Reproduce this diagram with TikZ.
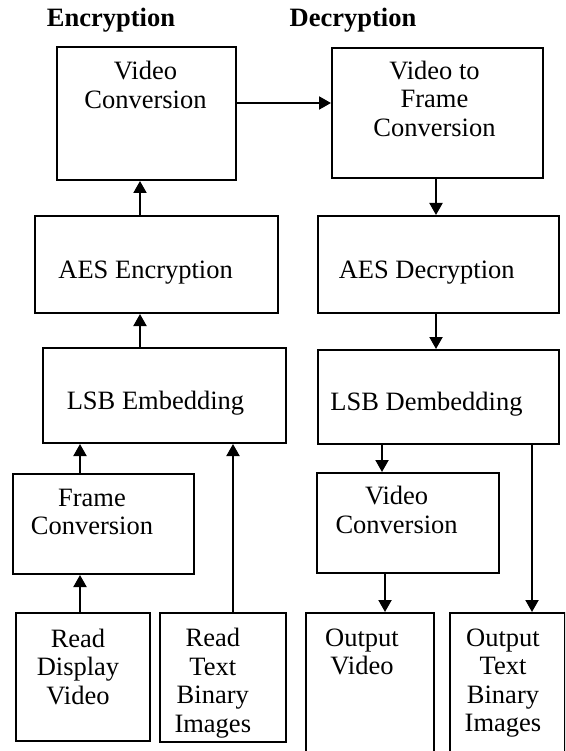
\documentclass[tikz,border=0pt]{standalone}
\usepackage{fontspec}
\setmainfont{Liberation Serif}
\usetikzlibrary{arrows.meta}
\begin{document}
\begin{tikzpicture}[x=1pt,y=-1pt,
  box/.style={draw=black,line width=2pt,rectangle,inner sep=0pt,anchor=north west},
  lbl/.style={align=center,anchor=base,inner sep=0pt,font=\fontsize{26.5}{28.5}\selectfont},
  head/.style={anchor=base,inner sep=0pt,font=\fontsize{26.5}{28.5}\selectfont\bfseries},
  arr/.style={line width=2pt,-{Triangle[length=12pt,width=13pt]}}]
\path[use as bounding box] (0,0) rectangle (565,751);
\clip (0,0) rectangle (565,751);
% headings
\node[head] (hEnc) at (111,27) {Encryption};
\node[head] (hDec) at (353,27) {Decryption};
% boxes
\node[box,minimum width=179pt,minimum height=133pt] (EncVC) at (56,46) {};
\node[box,minimum width=211pt,minimum height=130pt] (DecTop) at (331,47) {};
\node[box,minimum width=243pt,minimum height=97pt] (AESEnc) at (34,215) {};
\node[box,minimum width=241pt,minimum height=97pt] (AESDec) at (317,215) {};
\node[box,minimum width=243pt,minimum height=95pt] (LSBEmb) at (42,347) {};
\node[box,minimum width=241pt,minimum height=94pt] (LSBDem) at (317,349) {};
\node[box,minimum width=181pt,minimum height=100pt] (FrameConv) at (12,473) {};
\node[box,minimum width=182pt,minimum height=100pt] (DecVC) at (316,472) {};
\node[box,minimum width=134pt,minimum height=128pt] (ReadDisp) at (15,612) {};
\node[box,minimum width=126pt,minimum height=129pt] (ReadText) at (159,612) {};
\node[box,minimum width=128pt,minimum height=160pt] (OutVideo) at (305,612) {};
\node[box,minimum width=115pt,minimum height=160pt] (OutText) at (449,612) {};
% labels (base anchor = baseline of the last line)
\node[lbl] (tEncVC) at (145.5,108.5) {Video\\Conversion};
\node[lbl] (tDecTop) at (434.5,136.5) {Video to\\Frame\\Conversion};
\node[lbl] (tAESEnc) at (145.6,278) {AES Encryption};
\node[lbl] (tAESDec) at (426.7,278) {AES Decryption};
\node[lbl] (tLSBEmb) at (155.5,409) {LSB Embedding};
\node[lbl] (tLSBDem) at (426.5,410.3) {LSB Dembedding};
\node[lbl] (tFrame) at (92,534.7) {Frame\\Conversion};
\node[lbl] (tDecVC) at (396.6,533) {Video\\Conversion};
\node[lbl] (tReadDisp) at (78,704) {Read\\Display\\Video};
\node[lbl] (tReadText) at (212.8,732) {Read\\Text\\Binary\\Images};
\node[lbl] (tOutVideo) at (362,674.5) {Output\\Video};
\node[lbl] (tOutText) at (503,731.5) {Output\\Text\\Binary\\Images};
% connector guide coordinates
\coordinate (ya) at (0,103);
\coordinate (xa) at (140,0);
\coordinate (xb) at (80,0);
\coordinate (xc) at (233,0);
\coordinate (xd) at (436,0);
\coordinate (xe) at (382,0);
\coordinate (xf) at (385,0);
\coordinate (xg) at (532,0);
% connectors
\draw[arr] (EncVC.east |- ya) -- (DecTop.west |- ya);
\draw[arr] (AESEnc.north -| xa) -- (EncVC.south -| xa);
\draw[arr] (LSBEmb.north -| xa) -- (AESEnc.south -| xa);
\draw[arr] (FrameConv.north -| xb) -- (LSBEmb.south -| xb);
\draw[arr] (ReadDisp.north -| xb) -- (FrameConv.south -| xb);
\draw[arr] (ReadText.north -| xc) -- (LSBEmb.south -| xc);
\draw[arr] (DecTop.south -| xd) -- (AESDec.north -| xd);
\draw[arr] (AESDec.south -| xd) -- (LSBDem.north -| xd);
\draw[arr] (LSBDem.south -| xe) -- (DecVC.north -| xe);
\draw[arr] (DecVC.south -| xf) -- (OutVideo.north -| xf);
\draw[arr] (LSBDem.south -| xg) -- (OutText.north -| xg);
\end{tikzpicture}
\end{document}
